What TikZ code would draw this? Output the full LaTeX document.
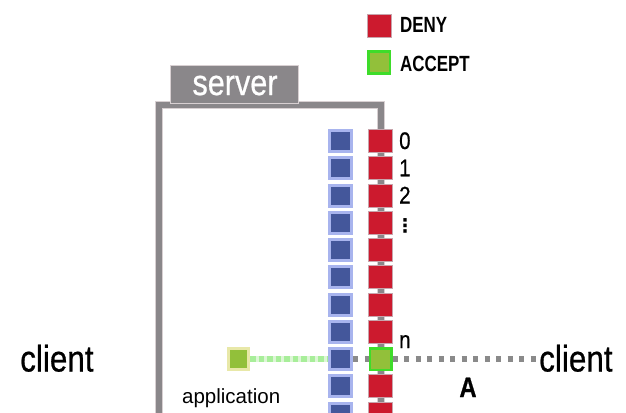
\documentclass[tikz,border=0pt]{standalone}
\usepackage{fontspec}
\setmainfont{Liberation Sans}
\newfontfamily\cfont[FakeStretch=0.85,FakeBold=0.6]{Liberation Sans}
\newfontfamily\lfont[FakeStretch=0.77]{Liberation Sans}
\newfontfamily\dvfont{DejaVu Sans}
\definecolor{framegray}{HTML}{8A878A}
\definecolor{frameedge}{HTML}{D8D0D2}
\definecolor{denyred}{HTML}{CC1A2E}
\definecolor{rededge}{HTML}{C8A4AC}
\definecolor{bluein}{HTML}{44579B}
\definecolor{blueout}{HTML}{A8B4EE}
\definecolor{accgreen}{HTML}{92C03A}
\definecolor{accedge}{HTML}{3EDC2A}
\definecolor{appedge}{HTML}{E8E8A8}
\definecolor{dashgreen}{HTML}{A8EE9A}
\definecolor{palegreen}{HTML}{DDF6D6}
\definecolor{dashgray}{HTML}{8A8A8A}
\tikzset{
  redsq/.style={draw=rededge, line width=1pt, fill=denyred, minimum width=24pt, minimum height=23pt, inner sep=0pt},
  bluesq/.style={draw=blueout, line width=3pt, fill=bluein, minimum width=22pt, minimum height=21pt, inner sep=0pt},
  accsq/.style={draw=accedge, line width=2.5pt, fill=accgreen, minimum width=21.5pt, minimum height=21.5pt, inner sep=0pt},
  appsq/.style={draw=appedge, line width=3pt, fill=accgreen, minimum width=20pt, minimum height=21pt, inner sep=0pt},
  graydash/.style={draw=dashgray, line width=6pt, dash pattern=on 5pt off 6.5pt},
  greendash/.style={draw=dashgreen, line width=6pt, dash pattern=on 5.5pt off 3pt},
  lbl/.style={inner sep=0pt, anchor=base west},
}
\begin{document}
\begin{tikzpicture}[x=1pt,y=-1pt]
\useasboundingbox (0,0) rectangle (626,412);
\clip (0,0) rectangle (626,412);
% server frame (its right edge runs on behind the port column)
\coordinate (fbl) at (158.5,430);
\coordinate (fbr) at (380.5,430);
\draw[frameedge, line width=8pt] (fbl) |- (380.5,104.5) -- (fbr);
\draw[framegray, line width=6pt] (fbl) |- (380.5,104.5) -- (fbr);
% tab
\node[fill=framegray, draw=frameedge, line width=1pt, minimum width=128pt, minimum height=38pt, inner sep=0pt] (tab) at (234,84.5) {};
\node[inner sep=0pt, anchor=base, text=white, font=\cfont\fontsize{36}{40}\selectfont] (srv) at (235,95) {server};
% legend
\node[redsq] (legR) at (379,26.5) {};
\node[accsq] (legG) at (379,62.5) {};
\node[lbl, font=\lfont\bfseries\fontsize{22}{26}\selectfont] (deny) at (400,33) {DENY};
\node[lbl, font=\lfont\bfseries\fontsize{22}{26}\selectfont] (acc) at (400,71) {ACCEPT};
% blue column
\foreach \k in {0,...,10} {
  \node[bluesq] (b\k) at (340.8,{141+27.25*\k}) {};
}
% red column
\foreach \k in {0,...,7,9,10} {
  \node[redsq] (r\k) at (380.5,{141+27.25*\k}) {};
}
\node[accsq] (r8) at (380.5,359) {};
% port labels
\node[lbl, font=\cfont\fontsize{24}{28}\selectfont] (p0) at (399,149) {0};
\node[lbl, font=\cfont\fontsize{24}{28}\selectfont] (p1) at (399,176.25) {1};
\node[lbl, font=\cfont\fontsize{24}{28}\selectfont] (p2) at (399,203.5) {2};
\node[inner sep=0pt, font=\dvfont\bfseries\fontsize{19}{22}\selectfont] (pd) at (405,226) {⋮};
\node[lbl, font=\cfont\fontsize{24}{28}\selectfont] (pn) at (399,348) {n};
% application
\node[appsq] (app) at (238.5,359) {};
\node[lbl, font=\fontsize{20.5}{24}\selectfont] (appl) at (182,403) {application};
% clients
\node[lbl, font=\cfont\fontsize{37}{42}\selectfont] (cl) at (20,371.5) {client};
\node[lbl, font=\cfont\fontsize{37}{42}\selectfont] (cr) at (539,371.5) {client};
\node[inner sep=0pt, anchor=base, font=\cfont\bfseries\fontsize{28}{32}\selectfont] (A) at (468,397) {A};
% connections
\draw[palegreen, line width=6pt] (app.east) -- (b8.west);
\draw[greendash] (app.east) -- (b8.west);
\draw[graydash] (b8.east) -- (r8.west);
\draw[graydash] (r8.east) -- (cr.west |- r8.east);
\end{tikzpicture}
\end{document}
